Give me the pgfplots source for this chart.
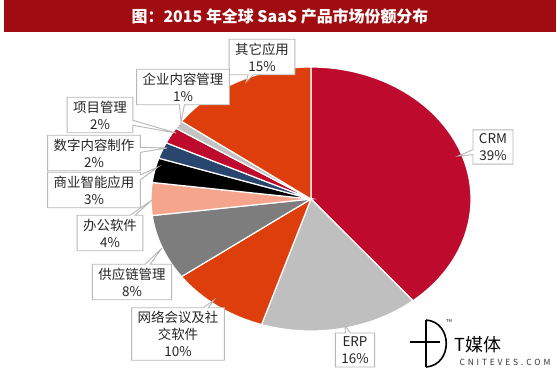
\documentclass[border=0pt]{standalone}
\usepackage{pgfplots}
\pgfplotsset{compat=1.18}
\usepackage{fontspec}
\setmainfont{Noto Sans CJK SC}
\usetikzlibrary{shapes.callouts}
\definecolor{crm}{RGB}{190,10,45}
\definecolor{erp}{RGB}{191,191,191}
\definecolor{orng}{RGB}{222,62,12}
\definecolor{dgray}{RGB}{125,125,125}
\definecolor{salmon}{RGB}{245,165,140}
\definecolor{navy}{RGB}{40,70,110}
\definecolor{lgray}{RGB}{195,195,195}
\definecolor{band}{RGB}{160,12,16}
\newcommand\slice[3]{%
  \addplot[fill=#3, draw=white, line width=1.2bp, domain={90-3.6*(#2)}:{90-3.6*(#1)}, samples=90, variable=\t]
    ({311+160*cos(\t)},{199-132*sin(\t)}) -- (axis cs:311,199) -- cycle;}
\tikzset{box/.style={rectangle callout, draw=black!28, fill=white, line width=0.9bp, align=center,
  font=\fontsize{13.5}{17}\selectfont, text=black!85, inner xsep=6bp, inner ysep=3.5bp, callout pointer width=5bp}}
\begin{document}
\begin{tikzpicture}
\begin{axis}[scale only axis, width=560bp, height=377bp, xmin=0, xmax=560, ymin=0, ymax=377,
  y dir=reverse, hide axis, clip=false]
\fill[white] (axis cs:0,0) rectangle (axis cs:560,377);
\fill[band] (axis cs:4,0) rectangle (axis cs:556,32);
\node[text=white, font=\fontsize{16}{18}\selectfont\bfseries] at (axis cs:280,16) {图：2015 年全球 SaaS 产品市场份额分布};
% cumulative percentages: CRM 39, ERP 16, 网络会议 10, 供应链 8, 办公 4, 商业智能 3, 数字内容 2, 项目 2, 企业内容 1, 其它 15
\slice{0}{39}{crm}
\slice{39}{55}{erp}
\slice{55}{65}{orng}
\slice{65}{73}{dgray}
\slice{73}{77}{salmon}
\slice{77}{80}{black}
\slice{80}{82}{navy}
\slice{82}{84}{crm}
\slice{84}{85}{lgray}
\slice{85}{100}{orng}
\node[box, callout absolute pointer={(axis cs:246,82)}] at (axis cs:262,57) {其它应用\\15\%};
\node[box, callout absolute pointer={(axis cs:181,122)}] at (axis cs:183,87) {企业内容管理\\1\%};
\node[box, callout absolute pointer={(axis cs:176,133)}] at (axis cs:100,115) {项目管理\\2\%};
\node[box, callout absolute pointer={(axis cs:167,148)}] at (axis cs:94,153) {数字内容制作\\2\%};
\node[box, callout absolute pointer={(axis cs:158,167)}] at (axis cs:94,190) {商业智能应用\\3\%};
\node[box, callout absolute pointer={(axis cs:152,200)}] at (axis cs:110,233) {办公软件\\4\%};
\node[box, callout absolute pointer={(axis cs:162,248)}] at (axis cs:132,282) {供应链管理\\8\%};
\node[box, callout absolute pointer={(axis cs:214,300)}] at (axis cs:178,334) {网络会议及社\\交软件\\10\%};
\node[box, callout absolute pointer={(axis cs:458,156)}] at (axis cs:493,147) {CRM\\39\%};
\node[box, callout absolute pointer={(axis cs:345,326)}] at (axis cs:355,350) {ERP\\16\%};
% watermark
\draw[line width=1.6bp] (axis cs:426,320) -- (axis cs:426,367);
\draw[line width=1.6bp] (axis cs:426,320) .. controls (axis cs:453,322) and (axis cs:453,365) .. (axis cs:426,367);
\draw[line width=1.6bp] (axis cs:410,342) -- (axis cs:440,342);
\node[font=\fontsize{4}{5}\selectfont] at (axis cs:449,321) {TM};
\node[font=\fontsize{18}{20}\selectfont] at (axis cs:478,345) {T媒体};
\node[font=\fontsize{8.5}{9}\selectfont, text=black!80] at (axis cs:505,362) {C\,\,N\,\,I\,\,T\,\,E\,\,V\,\,E\,\,S\,\,.\,\,C\,\,O\,\,M};
\end{axis}
\end{tikzpicture}
\end{document}
